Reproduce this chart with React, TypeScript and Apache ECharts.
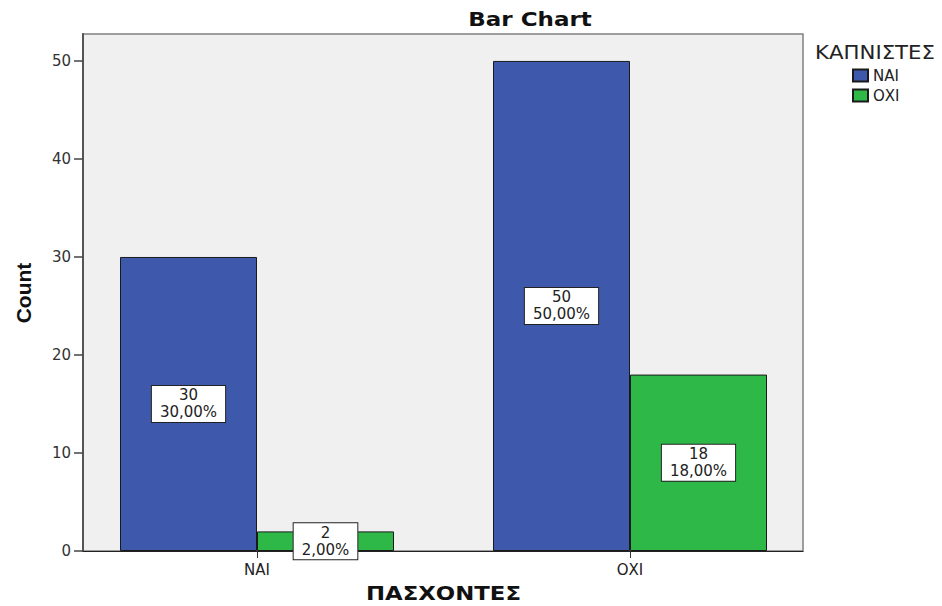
import React, { useEffect, useRef } from 'react';
import * as echarts from 'echarts';

const categories = ['ΝΑΙ', 'ΟΧΙ'];
const seriesNames = ['ΝΑΙ', 'ΟΧΙ'];
const smokersYes = [30, 50];
const smokersNo = [2, 18];
const yTickValues = [0, 10, 20, 30, 40, 50];
const yMax = 52.75;
const colors = ['#3E58AC', '#2EB848'];

export default function App() {
  const ref = useRef<HTMLDivElement>(null);

  useEffect(() => {
    document.body.style.margin = '0';
    const chart = echarts.init(ref.current!, null, { renderer: 'svg' });
    const total = [...smokersYes, ...smokersNo].reduce((a, b) => a + b, 0);
    const fmt = (p: any) =>
      `${p.value}\n${((p.value / total) * 100).toFixed(2).replace('.', ',')}%`;
    const label = {
      show: true,
      position: 'inside',
      formatter: fmt,
      backgroundColor: '#ffffff',
      borderColor: '#222222',
      borderWidth: 1,
      padding: [1, 8, 1, 8],
      color: '#222222',
      fontFamily: 'DejaVu Sans',
      fontSize: 15,
      lineHeight: 17,
      align: 'center',
    };
    const seriesData = [smokersYes, smokersNo];

    chart.setOption({
      animation: false,
      grid: [
        {
          left: 83,
          top: 34,
          width: 720,
          height: 517,
          show: true,
          backgroundColor: '#F0F0F0',
          borderColor: '#808080',
          borderWidth: 1.5,
        },
        { left: 70.5, top: 34, width: 746, height: 517 },
      ],
      xAxis: [
        {
          type: 'value',
          gridIndex: 0,
          min: 0,
          max: 1,
          axisLine: { show: true, lineStyle: { color: '#222', width: 1 } },
          axisTick: { show: false },
          axisLabel: { show: false },
          splitLine: { show: false },
        },
        {
          type: 'category',
          gridIndex: 1,
          data: categories,
          axisLine: { show: false },
          axisTick: {
            show: true,
            alignWithLabel: true,
            length: 7,
            lineStyle: { color: '#333', width: 1 },
          },
          axisLabel: {
            fontFamily: 'DejaVu Sans',
            fontSize: 15,
            color: '#222',
            margin: 11,
          },
          splitLine: { show: false },
        },
      ],
      yAxis: [
        {
          type: 'value',
          gridIndex: 0,
          min: 0,
          max: yMax,
          interval: 10,
          axisLine: { show: true, lineStyle: { color: '#555', width: 2 } },
          axisTick: {
            show: true,
            length: 9,
            lineStyle: { color: '#444', width: 1.5 },
            customValues: yTickValues,
          },
          axisLabel: {
            fontFamily: 'DejaVu Sans',
            fontSize: 15,
            color: '#333',
            margin: 12,
            customValues: yTickValues,
          },
          splitLine: { show: false },
        },
        { type: 'value', gridIndex: 1, min: 0, max: yMax, show: false },
      ],
      legend: {
        data: seriesNames,
        orient: 'vertical',
        left: 852,
        top: 68,
        padding: 0,
        itemWidth: 15,
        itemHeight: 12,
        itemGap: 5,
        icon: 'rect',
        textStyle: { fontFamily: 'DejaVu Sans', fontSize: 15, color: '#222' },
      },
      graphic: [
        {
          type: 'text',
          x: 530,
          y: 19,
          scaleX: 1.15,
          style: {
            text: 'Bar Chart',
            fontFamily: 'DejaVu Sans',
            fontWeight: 'bold',
            fontSize: 20,
            fill: '#111',
            align: 'center',
            verticalAlign: 'middle',
          },
        },
        {
          type: 'text',
          x: 443.5,
          y: 594,
          scaleX: 1.2,
          style: {
            text: 'ΠΑΣΧΟΝΤΕΣ',
            fontFamily: 'DejaVu Sans',
            fontWeight: 'bold',
            fontSize: 19,
            fill: '#111',
            align: 'center',
            verticalAlign: 'middle',
          },
        },
        {
          type: 'text',
          x: 23,
          y: 293,
          rotation: Math.PI / 2,
          style: {
            text: 'Count',
            fontFamily: "'Liberation Sans Narrow', 'Liberation Sans', Arial",
            fontWeight: 'bold',
            fontSize: 21,
            fill: '#111',
            align: 'center',
            verticalAlign: 'middle',
          },
        },
        {
          type: 'text',
          x: 815,
          y: 52,
          scaleX: 1.12,
          style: {
            text: 'ΚΑΠΝΙΣΤΕΣ',
            fontFamily: 'DejaVu Sans',
            fontSize: 19,
            fill: '#222',
            align: 'left',
            verticalAlign: 'middle',
          },
        },
      ],
      series: seriesNames.map((name, i) => ({
        name,
        type: 'bar',
        xAxisIndex: 1,
        yAxisIndex: 1,
        data: seriesData[i],
        barWidth: 137,
        barGap: '0%',
        itemStyle: { color: colors[i], borderColor: '#1a1a1a', borderWidth: 1 },
        label,
      })),
    });
    return () => chart.dispose();
  }, []);

  return (
    <div
      ref={ref}
      style={{ position: 'absolute', left: 0, top: 0, width: 942, height: 606 }}
    />
  );
}
